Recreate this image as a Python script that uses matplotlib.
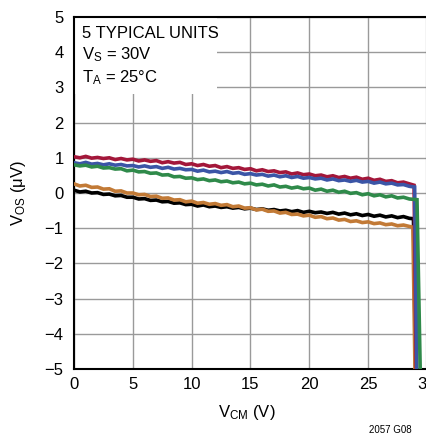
import numpy as np
import matplotlib
matplotlib.use("Agg")
import matplotlib.pyplot as plt
from matplotlib.patches import Rectangle
from matplotlib import font_manager

names = {f.name for f in font_manager.fontManager.ttflist}
fam = "Liberation Sans Narrow" if "Liberation Sans Narrow" in names else "Liberation Sans"
plt.rcParams['font.family'] = [fam, 'DejaVu Sans']
plt.rcParams['mathtext.default'] = 'regular'

# ---- data (V_CM in volts, V_OS in microvolts) ----
x_vals = [i * 0.5 for i in range(58)]  # 0 .. 28.5

red = [1.03, 1.00, 1.04, 0.99, 1.01, 0.98, 1.00, 0.95, 0.98, 0.94,
       0.96, 0.91, 0.94, 0.90, 0.92, 0.86, 0.89, 0.85, 0.87, 0.81,
       0.83, 0.78, 0.81, 0.76, 0.78, 0.72, 0.75, 0.70, 0.72, 0.67,
       0.69, 0.63, 0.66, 0.61, 0.63, 0.58, 0.60, 0.54, 0.57, 0.52,
       0.54, 0.49, 0.51, 0.46, 0.49, 0.44, 0.47, 0.42, 0.45, 0.39,
       0.42, 0.36, 0.39, 0.33, 0.35, 0.29, 0.31, 0.26]
blue = [0.86, 0.83, 0.87, 0.82, 0.84, 0.80, 0.83, 0.79, 0.81, 0.77,
        0.78, 0.74, 0.77, 0.73, 0.75, 0.70, 0.73, 0.68, 0.70, 0.66,
        0.67, 0.62, 0.65, 0.60, 0.62, 0.58, 0.61, 0.56, 0.58, 0.53,
        0.55, 0.51, 0.53, 0.48, 0.51, 0.46, 0.49, 0.44, 0.47, 0.42,
        0.44, 0.40, 0.42, 0.37, 0.40, 0.35, 0.37, 0.33, 0.36, 0.31,
        0.33, 0.28, 0.31, 0.26, 0.28, 0.23, 0.24, 0.19]
green = [0.80, 0.77, 0.79, 0.74, 0.76, 0.71, 0.72, 0.68, 0.69, 0.63,
         0.65, 0.60, 0.61, 0.56, 0.57, 0.51, 0.52, 0.46, 0.47, 0.42,
         0.43, 0.38, 0.40, 0.35, 0.37, 0.32, 0.34, 0.29, 0.31, 0.26,
         0.28, 0.23, 0.25, 0.20, 0.23, 0.17, 0.19, 0.14, 0.17, 0.12,
         0.14, 0.08, 0.11, 0.05, 0.08, 0.02, 0.05, -0.01, 0.01, -0.05,
         -0.02, -0.08, -0.05, -0.11, -0.08, -0.14, -0.12, -0.17]
orange = [0.26, 0.20, 0.22, 0.16, 0.17, 0.11, 0.12, 0.05, 0.06, 0.00,
          0.00, -0.05, -0.04, -0.10, -0.09, -0.15, -0.14, -0.20, -0.19, -0.25,
          -0.23, -0.29, -0.27, -0.32, -0.30, -0.35, -0.33, -0.39, -0.37, -0.43,
          -0.42, -0.48, -0.46, -0.52, -0.51, -0.57, -0.55, -0.61, -0.60, -0.65,
          -0.63, -0.69, -0.67, -0.73, -0.71, -0.77, -0.75, -0.81, -0.79, -0.84,
          -0.82, -0.87, -0.85, -0.90, -0.88, -0.93, -0.91, -0.95]
black = [0.08, 0.03, 0.05, 0.00, 0.01, -0.04, -0.03, -0.08, -0.07, -0.12,
         -0.12, -0.17, -0.16, -0.21, -0.20, -0.25, -0.24, -0.29, -0.28, -0.33,
         -0.32, -0.37, -0.34, -0.39, -0.37, -0.41, -0.39, -0.43, -0.41, -0.45,
         -0.43, -0.47, -0.45, -0.49, -0.47, -0.51, -0.49, -0.53, -0.50, -0.55,
         -0.52, -0.56, -0.54, -0.58, -0.55, -0.60, -0.57, -0.62, -0.59, -0.64,
         -0.61, -0.66, -0.63, -0.68, -0.65, -0.70, -0.67, -0.72]

# end-of-range collapse (x, y) for each unit
red_drop_x, red_drop_y = [28.9, 29.1], [0.22, -5.5]
blue_drop_x, blue_drop_y = [28.95, 29.15], [0.17, -5.5]
green_drop_x, green_drop_y = [29.15, 29.45], [-0.19, -5.5]
orange_drop_x, orange_drop_y = [28.8, 29.0], [-0.97, -5.5]
black_drop_x, black_drop_y = [28.85, 29.05], [-0.73, -5.5]

x_ticks = [0, 5, 10, 15, 20, 25, 30]
x_ticklabels = ["0", "5", "10", "15", "20", "25", "30"]
y_ticks = [-5, -4, -3, -2, -1, 0, 1, 2, 3, 4, 5]

series = [
    (black, black_drop_x, black_drop_y, "#000000"),
    (orange, orange_drop_x, orange_drop_y, "#C27A36"),
    (red, red_drop_x, red_drop_y, "#A3173A"),
    (blue, blue_drop_x, blue_drop_y, "#3B55A6"),
    (green, green_drop_x, green_drop_y, "#2F8A4A"),
]

fig = plt.figure(figsize=(4.26, 4.38), dpi=100)
ax = fig.add_axes([74 / 426, 69 / 438, 353 / 426, 352 / 438])

for ys, dx, dy, c in series:
    ax.plot(list(x_vals) + dx, list(ys) + dy, color=c, lw=2.6, zorder=3,
            solid_joinstyle='miter', clip_on=True)

ax.set_xlim(0, 30)
ax.set_ylim(-5, 5)
ax.set_xticks(x_ticks)
ax.set_xticklabels(x_ticklabels)
ax.set_yticks(y_ticks)
ax.set_axisbelow(True)
ax.grid(True, color="#9a9a9a", lw=1.0)
ax.tick_params(axis='y', length=0, labelsize=12, pad=7.5)
ax.tick_params(axis='x', length=0, labelsize=12, pad=6)
for s in ax.spines.values():
    s.set_linewidth(1.5)
    s.set_color("black")

# white box behind annotation
ax.add_patch(Rectangle((0, 0.782), 0.405, 0.218, transform=ax.transAxes,
                       facecolor="white", edgecolor="none", zorder=1))
ax.text(0.022, 0.975, "5 TYPICAL UNITS\nV$_S$ = 30V\nT$_A$ = 25°C",
        transform=ax.transAxes, ha="left", va="top", fontsize=12,
        linespacing=1.3, zorder=4)

fig.text(247 / 426, 1 - 412 / 438, "V$_{CM}$ (V)", ha="center", va="center", fontsize=12)
fig.text(19 / 426, 1 - 193 / 438, "V$_{OS}$ (μV)", ha="center", va="center",
         rotation=90, fontsize=12)
fig.text(412 / 426, 1 - 430 / 438, "2057 G08", ha="right", va="center", fontsize=7)

fig.savefig("out.png", dpi=100)
